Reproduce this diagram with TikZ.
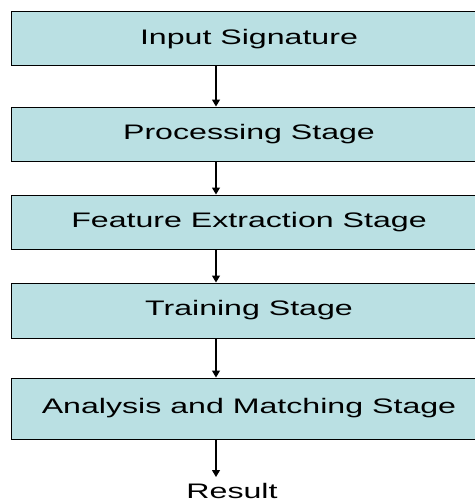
\documentclass[tikz,border=0pt]{standalone}
\usepackage{fontspec}
\setmainfont[FakeStretch=1.53]{Liberation Sans}
\usetikzlibrary{arrows.meta}
\definecolor{boxfill}{RGB}{186,224,227}
\tikzset{
  stage/.style={draw=black, fill=boxfill, line width=1pt, minimum width=476pt,
    minimum height=54pt, inner sep=0pt, font=\fontsize{21}{25}\selectfont},
  flow/.style={line width=1.1pt, -{Triangle[length=7pt,width=8pt]}}
}
\begin{document}
\begin{tikzpicture}[x=1pt, y=-1pt]
\useasboundingbox (0,0) rectangle (474,503);
\node[stage] (input) at (249,39) {Input Signature};
\node[stage] (proc) at (249,134) {Processing Stage};
\node[stage] (feat) at (249,222) {Feature Extraction Stage};
\node[stage, minimum height=55pt] (train) at (249,310.5) {Training Stage};
\node[stage, minimum height=61pt] (match) at (249,408.5) {Analysis and Matching Stage};
\node[font=\fontsize{21}{25}\selectfont, inner sep=0pt] (result) at (232,491) {Result};
\coordinate (ax) at (216,0);
\coordinate (resend) at (216,477);
\draw[flow] (input.south -| ax) -- (proc.north -| ax);
\draw[flow] (proc.south -| ax) -- (feat.north -| ax);
\draw[flow] (feat.south -| ax) -- (train.north -| ax);
\draw[flow] (train.south -| ax) -- (match.north -| ax);
\draw[flow] (match.south -| ax) -- (resend);
\end{tikzpicture}
\end{document}
